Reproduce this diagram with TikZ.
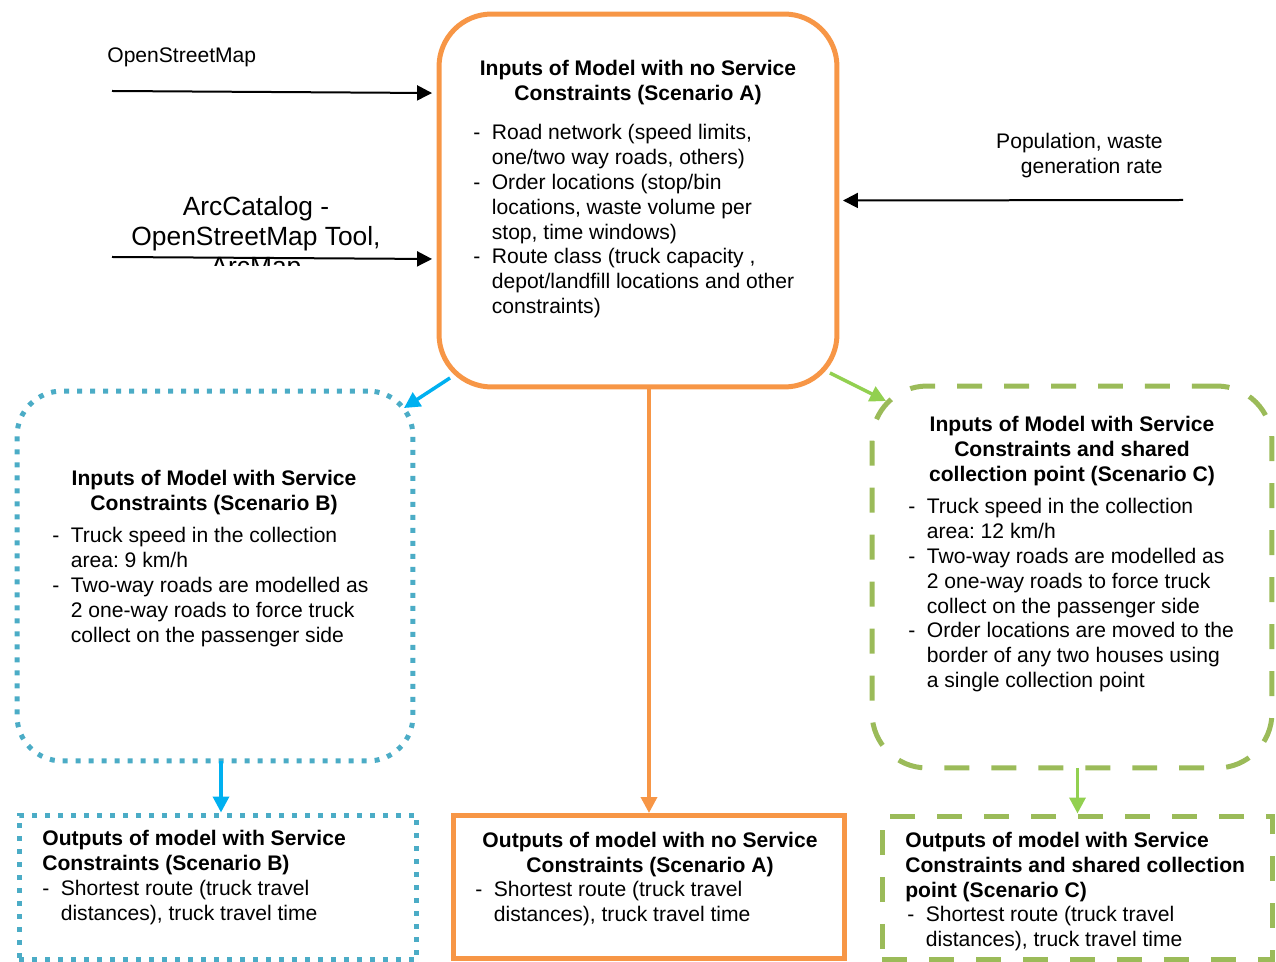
\documentclass[tikz,border=0pt]{standalone}
\usepackage{fontspec}
\setmainfont{Liberation Sans}
\usetikzlibrary{arrows.meta}
\frenchspacing

\definecolor{naranja}{HTML}{F79646}
\definecolor{azul}{HTML}{4BACC6}
\definecolor{azulflecha}{HTML}{00B0F0}
\definecolor{verde}{HTML}{9BBB59}
\definecolor{verdeflecha}{HTML}{92D050}

\newcommand{\guion}{\makebox[0.37cm][l]{-}}
\newcommand{\fuente}{\fontsize{12}{14.1}\selectfont}

\tikzset{
  caja/.style={draw, line width=0.1cm, inner sep=0pt, outer sep=0pt},
  punteado/.style={dash pattern=on 0.1cm off 0.16cm},
  rayado/.style={dash pattern=on 0.5cm off 0.44cm},
  texto/.style={inner sep=0pt, font=\fuente},
  titulo/.style={inner sep=0pt, font=\fuente\bfseries},
  flecha/.style={line width=0.04cm, -{Triangle[length=0.3cm,width=0.3cm]}},
  flechac/.style={line width=0.07cm, -{Triangle[length=0.32cm,width=0.32cm]}},
}

\begin{document}
\begin{tikzpicture}[x=0.02cm,y=-0.02cm] % 1 unidad = 1 pixel
\useasboundingbox (0,0) rectangle (1276,962);

% Cajas
\node[caja, naranja, rounded corners=1.05cm, minimum width=7.96cm, minimum height=7.46cm] (A) at (638,200.5) {};
\node[caja, azul, punteado, rounded corners=0.9cm, minimum width=7.92cm, minimum height=7.4cm] (B) at (215,576) {};
\node[caja, verde, rayado, rounded corners=1.1cm, minimum width=8cm, minimum height=7.64cm] (C) at (1072,577) {};
\node[caja, azul, punteado, minimum width=7.96cm, minimum height=2.9cm] (Bsal) at (218,887.5) {};
\node[caja, naranja, minimum width=7.84cm, minimum height=2.86cm] (Asal) at (649,887) {};
\node[caja, verde, rayado, minimum width=7.82cm, minimum height=2.88cm] (Csal) at (1077.5,888) {};

% Escenario A
\node[titulo, anchor=base] (Atit) at (638,76) {\begin{tabular}[t]{@{}c@{}}
Inputs of Model with no Service\\ Constraints (Scenario A)\end{tabular}};
\node[texto, anchor=base west] (Alis) at (473,140) {\begin{tabular}[t]{@{}l@{}l@{}}
\guion & Road network (speed limits,\\ & one/two way roads, others)\\
\guion & Order locations (stop/bin\\ & locations, waste volume per\\ & stop, time windows)\\
\guion & Route class (truck capacity ,\\ & depot/landfill locations and other\\ & constraints)\end{tabular}};

% Escenario B
\node[titulo, anchor=base] (Btit) at (214,486) {\begin{tabular}[t]{@{}c@{}}
Inputs of Model with Service\\ Constraints (Scenario B)\end{tabular}};
\node[texto, anchor=base west] (Blis) at (52,543) {\begin{tabular}[t]{@{}l@{}l@{}}
\guion & Truck speed in the collection\\ & area: 9 km/h\\
\guion & Two-way roads are modelled as\\ & 2 one-way roads to force truck\\ & collect on the passenger side\end{tabular}};

% Escenario C
\node[titulo, anchor=base] (Ctit) at (1072,432) {\begin{tabular}[t]{@{}c@{}}
Inputs of Model with Service\\ Constraints and shared\\ collection point (Scenario C)\end{tabular}};
\node[texto, anchor=base west] (Clis) at (908,514) {\begin{tabular}[t]{@{}l@{}l@{}}
\guion & Truck speed in the collection\\ & area: 12 km/h\\
\guion & Two-way roads are modelled as\\ & 2 one-way roads to force truck\\ & collect on the passenger side\\
\guion & Order locations are moved to the\\ & border of any two houses using\\ & a single collection point\end{tabular}};

% Salidas
\node[titulo, anchor=base west] (Bsaltit) at (42,846) {\begin{tabular}[t]{@{}l@{}}
Outputs of model with Service\\ Constraints (Scenario B)\end{tabular}};
\node[texto, anchor=base west] (Bsallis) at (42,896) {\begin{tabular}[t]{@{}l@{}l@{}}
\guion & Shortest route (truck travel\\ & distances), truck travel time\end{tabular}};
\node[titulo, anchor=base] (Asaltit) at (650,848) {\begin{tabular}[t]{@{}c@{}}
Outputs of model with no Service\\ Constraints (Scenario A)\end{tabular}};
\node[texto, anchor=base west] (Asallis) at (475,897) {\begin{tabular}[t]{@{}l@{}l@{}}
\guion & Shortest route (truck travel\\ & distances), truck travel time\end{tabular}};
\node[titulo, anchor=base west] (Csaltit) at (905,848) {\begin{tabular}[t]{@{}l@{}}
Outputs of model with Service\\ Constraints and shared collection\\ point (Scenario C)\end{tabular}};
\node[texto, anchor=base west] (Csallis) at (907,922) {\begin{tabular}[t]{@{}l@{}l@{}}
\guion & Shortest route (truck travel\\ & distances), truck travel time\end{tabular}};

% Fuentes de datos
\node[texto, anchor=base west] (osm) at (107,63) {OpenStreetMap};
\begin{scope}
\clip (100,170) rectangle (420,266);
\node[inner sep=0pt, font=\fontsize{15}{17}\selectfont, anchor=base] (arc) at (256,216) {\begin{tabular}[t]{@{}c@{}}
ArcCatalog -\\ OpenStreetMap Tool,\\ ArcMap\end{tabular}};
\end{scope}
\node[texto, anchor=base east] (pob) at (1163,149) {\begin{tabular}[t]{@{}r@{}}
Population, waste\\ generation rate\end{tabular}};

% Flechas
\coordinate (osmcola) at (112,91);
\coordinate (arccola) at (112,257);
\coordinate (pobcola) at (1183,200);
\draw[flecha] (osmcola) -- ([xshift=-0.14cm,yshift=2.15cm]A.west);
\draw[flecha] (arccola) -- ([xshift=-0.14cm,yshift=-1.17cm]A.west);
\draw[flecha] (pobcola) -- ([xshift=0.12cm]A.east);
\draw[flechac, azulflecha] ([xshift=0.22cm,yshift=0.18cm]A.south west) -- ([xshift=-0.18cm,yshift=-0.34cm]B.north east);
\draw[flechac, verdeflecha] ([xshift=-0.14cm,yshift=0.28cm]A.south east) -- ([xshift=0.28cm,yshift=-0.3cm]C.north west);
\draw[flechac, naranja] (A.south -| Asal.north) -- ([yshift=0.05cm]Asal.north);
\draw[flechac, azulflecha] ([xshift=0.06cm]B.south -| Bsal.north) -- ([xshift=0.06cm,yshift=0.05cm]Bsal.north);
\draw[flechac, verdeflecha] (C.south -| Csal.north) -- ([yshift=0.05cm]Csal.north);
\end{tikzpicture}
\end{document}
